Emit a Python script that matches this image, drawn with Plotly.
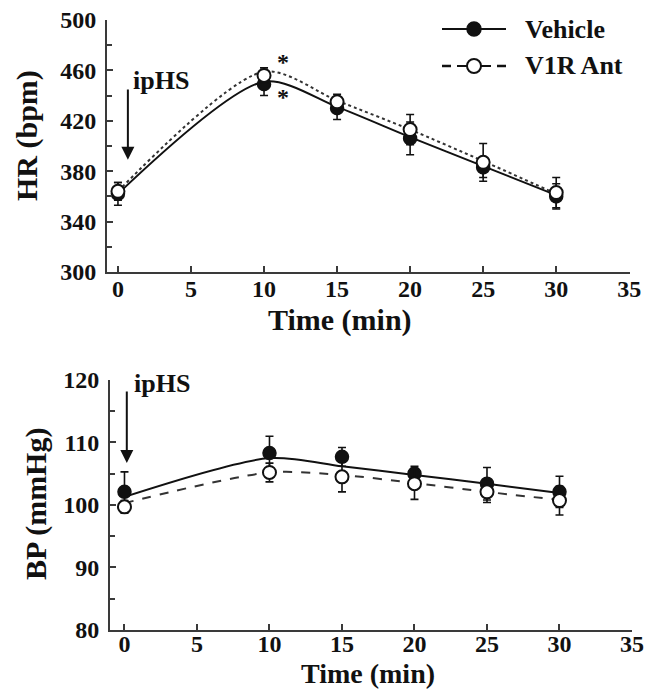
import plotly.graph_objects as go

# ---- data ----
time_min = [0, 10, 15, 20, 25, 30]

hr_vehicle = [362, 449, 430, 406, 383, 360]
hr_vehicle_err = [9, 9, 9, 13, 8, 10]
hr_v1r = [364, 456, 435, 413, 387, 363]
hr_v1r_err = [7, 6, 6, 12, 15, 12]
hr_vehicle_fit = [362, 451, 431, 407, 384, 361]
hr_v1r_fit = [364, 459, 436, 413, 388, 362]

bp_vehicle = [102.1, 108.3, 107.7, 105.0, 103.4, 102.1]
bp_vehicle_err = [3.2, 2.7, 1.5, 1.2, 2.6, 2.5]
bp_v1r = [99.7, 105.2, 104.5, 103.4, 102.1, 100.7]
bp_v1r_err = [1.0, 1.5, 2.4, 2.5, 1.7, 2.3]
bp_vehicle_fit = [101.3, 107.5, 106.2, 104.8, 103.4, 101.9]
bp_v1r_fit = [100.3, 105.2, 104.8, 103.5, 102.1, 100.8]

series_names = ["Vehicle", "V1R Ant"]
hr_ticks = [300, 340, 380, 420, 460, 500]
bp_ticks = [80, 90, 100, 110, 120]
x_ticks = [0, 5, 10, 15, 20, 25, 30, 35]

FONT = "Liberation Serif"
INK = "#111111"
AX = "#3a3a3a"

fig = go.Figure()

def add_panel(xa, ya, fit_a, fit_b, va, ea, vb, eb, dash_b):
    fig.add_trace(go.Scatter(x=time_min, y=fit_a, mode="lines", xaxis=xa, yaxis=ya,
                             line=dict(color=INK, width=2, shape="spline", smoothing=0.8),
                             showlegend=False, hoverinfo="skip"))
    fig.add_trace(go.Scatter(x=time_min, y=fit_b, mode="lines", xaxis=xa, yaxis=ya,
                             line=dict(color="#333333", width=2, dash=dash_b, shape="spline", smoothing=0.8),
                             showlegend=False, hoverinfo="skip"))
    fig.add_trace(go.Scatter(x=time_min, y=va, mode="markers", xaxis=xa, yaxis=ya, name=series_names[0],
                             error_y=dict(type="data", array=ea, color=INK, thickness=1.6, width=4),
                             marker=dict(symbol="circle", size=13, color=INK, line=dict(color=INK, width=1.5)),
                             showlegend=False))
    fig.add_trace(go.Scatter(x=time_min, y=vb, mode="markers", xaxis=xa, yaxis=ya, name=series_names[1],
                             error_y=dict(type="data", array=eb, color=INK, thickness=1.6, width=4),
                             marker=dict(symbol="circle", size=13, color="white", line=dict(color=INK, width=2)),
                             showlegend=False))

add_panel("x", "y", hr_vehicle_fit, hr_v1r_fit, hr_vehicle, hr_vehicle_err, hr_v1r, hr_v1r_err, "dot")
add_panel("x2", "y2", bp_vehicle_fit, bp_v1r_fit, bp_vehicle, bp_vehicle_err, bp_v1r, bp_v1r_err, "dash")

tickfont = dict(family=FONT, size=24, color=INK, weight="bold")
common_axis = dict(showline=True, linecolor=AX, linewidth=2, ticks="inside", tickcolor=AX,
                   tickwidth=1.5, ticklen=6, showgrid=False, zeroline=False, tickfont=tickfont,
                   automargin=False, fixedrange=True)

fig.update_layout(
    width=650, height=691,
    margin=dict(l=0, r=0, t=0, b=0),
    paper_bgcolor="white", plot_bgcolor="white",
    showlegend=False,
    xaxis=dict(domain=[0.1646, 0.9692], anchor="y", range=[-0.75, 35.05], tickvals=x_ticks,
               ticklabelstandoff=-6, **common_axis),
    yaxis=dict(domain=[0.6064, 0.9711], anchor="x", range=[300, 500], tickvals=hr_ticks,
               minor=dict(dtick=20, ticks="inside", ticklen=5, tickcolor=AX, tickwidth=1.5),
               ticklabelstandoff=4, **common_axis),
    xaxis2=dict(domain=[0.1692, 0.9723], anchor="y2", range=[-1.0, 35.0], tickvals=x_ticks,
                ticklabelstandoff=-9, **common_axis),
    yaxis2=dict(domain=[0.0883, 0.4501], anchor="x2", range=[80, 120], tickvals=bp_ticks,
                minor=dict(dtick=5, ticks="inside", ticklen=5, tickcolor=AX, tickwidth=1.5),
                ticklabelstandoff=4, **common_axis),
)

title_font = dict(family=FONT, size=30, color=INK)
title_font_b = dict(family=FONT, size=28, color=INK)
label_font = dict(family=FONT, size=26, color=INK)
ast_font = dict(family=FONT, size=24, color=INK)
annotations = [
    dict(text="<b>HR (bpm)</b>", xref="paper", yref="paper", x=0.0415, y=0.8046, textangle=-90,
         showarrow=False, font=title_font, xanchor="center", yanchor="middle"),
    dict(text="<b>BP (mmHg)</b>", xref="paper", yref="paper", x=0.0554, y=0.2706, textangle=-90,
         showarrow=False, font=title_font, xanchor="center", yanchor="middle"),
    dict(text="<b>Time (min)</b>", xref="paper", yref="paper", x=0.523, y=0.5369,
         showarrow=False, font=title_font, xanchor="center", yanchor="middle"),
    dict(text="<b>Time (min)</b>", xref="paper", yref="paper", x=0.566, y=0.0,
         showarrow=False, font=title_font_b, xanchor="center", yanchor="bottom"),
    # ipHS labels and arrows
    dict(text="<b>ipHS</b>", xref="x", yref="y", x=0.9, y=452, showarrow=False,
         font=label_font, xanchor="left", yanchor="middle"),
    dict(text="", xref="x", yref="y", x=0.68, y=389, axref="x", ayref="y", ax=0.68, ay=446,
         showarrow=True, arrowhead=2, arrowsize=1.3, arrowwidth=2, arrowcolor=INK),
    dict(text="<b>ipHS</b>", xref="x2", yref="y2", x=0.5, y=119.5, showarrow=False,
         font=label_font, xanchor="left", yanchor="middle"),
    dict(text="", xref="x2", yref="y2", x=0.16, y=106.7, axref="x2", ayref="y2", ax=0.16, ay=118.4,
         showarrow=True, arrowhead=2, arrowsize=1.3, arrowwidth=2, arrowcolor=INK),
    # significance asterisks
    dict(text="<b>*</b>", xref="x", yref="y", x=11.3, y=467, showarrow=False, font=ast_font),
    dict(text="<b>*</b>", xref="x", yref="y", x=11.3, y=439, showarrow=False, font=ast_font),
    # legend text
    dict(text="<b>Vehicle</b>", xref="paper", yref="paper", x=0.805, y=0.958, showarrow=False,
         font=label_font, xanchor="left", yanchor="middle"),
    dict(text="<b>V1R Ant</b>", xref="paper", yref="paper", x=0.805, y=0.9045, showarrow=False,
         font=label_font, xanchor="left", yanchor="middle"),
]
fig.update_layout(annotations=annotations)

# manual legend samples
shapes = [
    dict(type="line", xref="paper", yref="paper", x0=442/650, x1=506/650, y0=0.958, y1=0.958,
         line=dict(color=INK, width=2)),
    dict(type="circle", xref="paper", yref="paper", xsizemode="pixel", ysizemode="pixel",
         xanchor=474/650, yanchor=0.958, x0=-7, x1=7, y0=-7, y1=7,
         fillcolor=INK, line=dict(color=INK, width=1.5)),
    dict(type="line", xref="paper", yref="paper", x0=442/650, x1=451/650, y0=0.9045, y1=0.9045,
         line=dict(color=INK, width=2.5)),
    dict(type="line", xref="paper", yref="paper", x0=457/650, x1=491/650, y0=0.9045, y1=0.9045,
         line=dict(color=INK, width=2)),
    dict(type="line", xref="paper", yref="paper", x0=497/650, x1=506/650, y0=0.9045, y1=0.9045,
         line=dict(color=INK, width=2.5)),
    dict(type="circle", xref="paper", yref="paper", xsizemode="pixel", ysizemode="pixel",
         xanchor=474/650, yanchor=0.9045, x0=-7, x1=7, y0=-7, y1=7,
         fillcolor="white", line=dict(color=INK, width=2)),
]
fig.update_layout(shapes=shapes)

fig.write_html("out.html", config={"displayModeBar": False})
